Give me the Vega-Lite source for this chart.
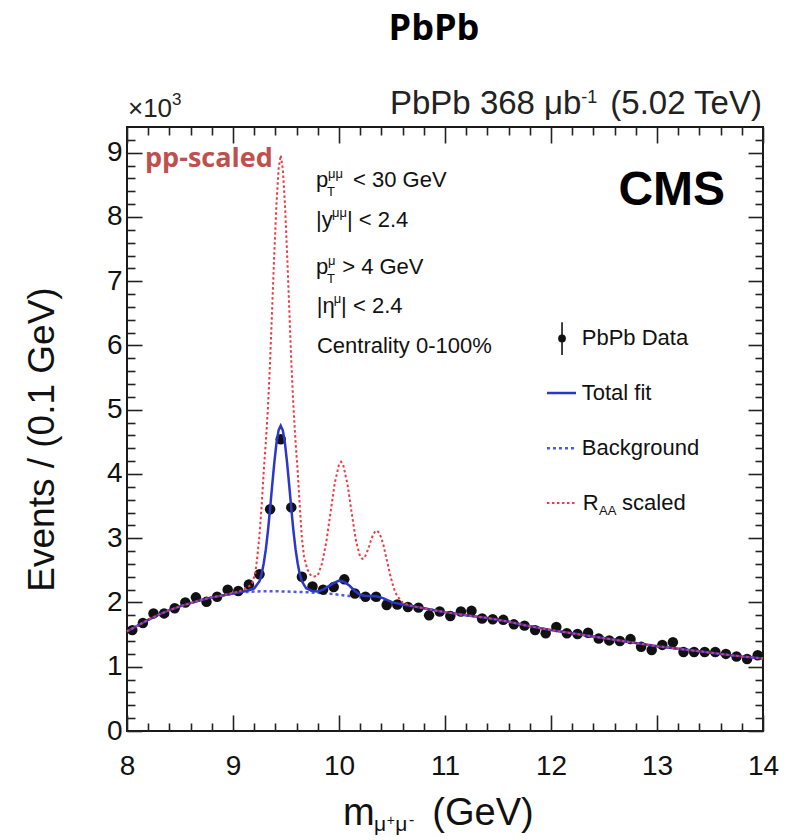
{
  "$schema": "https://vega.github.io/schema/vega-lite/v6.json",
  "width": 636,
  "height": 604,
  "autosize": {"type": "none"},
  "padding": {"left": 127, "top": 127, "right": 35, "bottom": 109},
  "background": "white",
  "title": {"text": "PbPb", "font": "Open Sans", "fontSize": 36, "fontWeight": "bold", "color": "#000", "anchor": "middle", "frame": "group", "offset": 12, "baseline": "alphabetic", "dx": -11},
  "config": {
    "view": {"stroke": "#1a1a1a", "strokeWidth": 2},
    "axis": {"domain": false, "grid": false, "labelFont": "Liberation Sans", "labelFontSize": 28, "labelColor": "#111", "tickColor": "#222", "tickWidth": 1.6, "labelFlush": false, "labelOverlap": false, "titleFont": "Liberation Sans", "titleColor": "#111"},
    "text": {"font": "Liberation Sans", "fontSize": 22, "align": "left", "baseline": "alphabetic", "color": "#111"}
  },
  "data": {"values": [{}]},
  "datasets": {
    "pts": [
      {"mass": 8.05, "events": 1.57}, {"mass": 8.15, "events": 1.68}, {"mass": 8.25, "events": 1.83}, {"mass": 8.35, "events": 1.83},
      {"mass": 8.45, "events": 1.91}, {"mass": 8.55, "events": 2.0}, {"mass": 8.65, "events": 2.08}, {"mass": 8.75, "events": 2.01},
      {"mass": 8.85, "events": 2.09}, {"mass": 8.95, "events": 2.2}, {"mass": 9.05, "events": 2.18}, {"mass": 9.15, "events": 2.28},
      {"mass": 9.25, "events": 2.44}, {"mass": 9.35, "events": 3.45}, {"mass": 9.45, "events": 4.54}, {"mass": 9.55, "events": 3.48},
      {"mass": 9.65, "events": 2.4}, {"mass": 9.75, "events": 2.25}, {"mass": 9.85, "events": 2.2}, {"mass": 9.95, "events": 2.24},
      {"mass": 10.05, "events": 2.36}, {"mass": 10.15, "events": 2.14}, {"mass": 10.25, "events": 2.09}, {"mass": 10.35, "events": 2.09},
      {"mass": 10.45, "events": 1.96}, {"mass": 10.55, "events": 1.97}, {"mass": 10.65, "events": 1.93}, {"mass": 10.75, "events": 1.92},
      {"mass": 10.85, "events": 1.8}, {"mass": 10.95, "events": 1.86}, {"mass": 11.05, "events": 1.79}, {"mass": 11.15, "events": 1.86},
      {"mass": 11.25, "events": 1.87}, {"mass": 11.35, "events": 1.75}, {"mass": 11.45, "events": 1.74}, {"mass": 11.55, "events": 1.73},
      {"mass": 11.65, "events": 1.66}, {"mass": 11.75, "events": 1.64}, {"mass": 11.85, "events": 1.57}, {"mass": 11.95, "events": 1.52},
      {"mass": 12.05, "events": 1.62}, {"mass": 12.15, "events": 1.52}, {"mass": 12.25, "events": 1.51}, {"mass": 12.35, "events": 1.53},
      {"mass": 12.45, "events": 1.44}, {"mass": 12.55, "events": 1.41}, {"mass": 12.65, "events": 1.4}, {"mass": 12.75, "events": 1.43},
      {"mass": 12.85, "events": 1.31}, {"mass": 12.95, "events": 1.26}, {"mass": 13.05, "events": 1.34}, {"mass": 13.15, "events": 1.38},
      {"mass": 13.25, "events": 1.23}, {"mass": 13.35, "events": 1.23}, {"mass": 13.45, "events": 1.23}, {"mass": 13.55, "events": 1.23},
      {"mass": 13.65, "events": 1.2}, {"mass": 13.75, "events": 1.16}, {"mass": 13.85, "events": 1.12}, {"mass": 13.95, "events": 1.18}
    ],
    "bg": [
      {"mass": 8.0, "events": 1.55}, {"mass": 8.1, "events": 1.64}, {"mass": 8.2, "events": 1.73}, {"mass": 8.3, "events": 1.81},
      {"mass": 8.4, "events": 1.88}, {"mass": 8.5, "events": 1.94}, {"mass": 8.6, "events": 1.99}, {"mass": 8.7, "events": 2.04},
      {"mass": 8.8, "events": 2.08}, {"mass": 8.9, "events": 2.11}, {"mass": 9.0, "events": 2.14}, {"mass": 9.1, "events": 2.16},
      {"mass": 9.2, "events": 2.17}, {"mass": 9.3, "events": 2.175}, {"mass": 9.4, "events": 2.175}, {"mass": 9.5, "events": 2.17},
      {"mass": 9.6, "events": 2.165}, {"mass": 9.7, "events": 2.16}, {"mass": 9.8, "events": 2.15}, {"mass": 9.9, "events": 2.14},
      {"mass": 10.0, "events": 2.12}, {"mass": 10.1, "events": 2.1}, {"mass": 10.2, "events": 2.08}, {"mass": 10.3, "events": 2.06},
      {"mass": 10.4, "events": 2.03}, {"mass": 10.5, "events": 2.0}, {"mass": 10.6, "events": 1.97}, {"mass": 10.7, "events": 1.94},
      {"mass": 10.8, "events": 1.91}, {"mass": 10.9, "events": 1.88}, {"mass": 11.0, "events": 1.85}, {"mass": 11.2, "events": 1.8},
      {"mass": 11.4, "events": 1.76}, {"mass": 11.6, "events": 1.7}, {"mass": 11.8, "events": 1.63}, {"mass": 12.0, "events": 1.57},
      {"mass": 12.2, "events": 1.52}, {"mass": 12.4, "events": 1.47}, {"mass": 12.6, "events": 1.42}, {"mass": 12.8, "events": 1.37},
      {"mass": 13.0, "events": 1.32}, {"mass": 13.2, "events": 1.28}, {"mass": 13.4, "events": 1.24}, {"mass": 13.6, "events": 1.2},
      {"mass": 13.8, "events": 1.16}, {"mass": 14.0, "events": 1.13}
    ],
    "fit": [
      {"mass": 8.0, "events": 1.55}, {"mass": 8.1, "events": 1.64}, {"mass": 8.2, "events": 1.73}, {"mass": 8.3, "events": 1.81},
      {"mass": 8.4, "events": 1.88}, {"mass": 8.5, "events": 1.94}, {"mass": 8.6, "events": 1.99}, {"mass": 8.7, "events": 2.04},
      {"mass": 8.8, "events": 2.08}, {"mass": 8.9, "events": 2.11}, {"mass": 9.0, "events": 2.14}, {"mass": 9.1, "events": 2.17},
      {"mass": 9.15, "events": 2.19}, {"mass": 9.2, "events": 2.22}, {"mass": 9.25, "events": 2.33}, {"mass": 9.27, "events": 2.44},
      {"mass": 9.29, "events": 2.61}, {"mass": 9.31, "events": 2.83}, {"mass": 9.33, "events": 3.12}, {"mass": 9.35, "events": 3.46},
      {"mass": 9.37, "events": 3.83}, {"mass": 9.39, "events": 4.18}, {"mass": 9.41, "events": 4.48}, {"mass": 9.43, "events": 4.68},
      {"mass": 9.45, "events": 4.75}, {"mass": 9.47, "events": 4.68}, {"mass": 9.49, "events": 4.48}, {"mass": 9.51, "events": 4.18},
      {"mass": 9.53, "events": 3.83}, {"mass": 9.55, "events": 3.46}, {"mass": 9.57, "events": 3.12}, {"mass": 9.59, "events": 2.83},
      {"mass": 9.61, "events": 2.61}, {"mass": 9.63, "events": 2.44}, {"mass": 9.65, "events": 2.33}, {"mass": 9.69, "events": 2.22},
      {"mass": 9.75, "events": 2.18}, {"mass": 9.8, "events": 2.17}, {"mass": 9.85, "events": 2.2}, {"mass": 9.9, "events": 2.25},
      {"mass": 9.95, "events": 2.3}, {"mass": 10.0, "events": 2.34}, {"mass": 10.02, "events": 2.335}, {"mass": 10.05, "events": 2.32},
      {"mass": 10.1, "events": 2.26}, {"mass": 10.15, "events": 2.18}, {"mass": 10.2, "events": 2.12}, {"mass": 10.25, "events": 2.1},
      {"mass": 10.3, "events": 2.1}, {"mass": 10.36, "events": 2.095}, {"mass": 10.42, "events": 2.065}, {"mass": 10.5, "events": 2.005},
      {"mass": 10.6, "events": 1.97}, {"mass": 10.7, "events": 1.94}, {"mass": 10.8, "events": 1.91}, {"mass": 10.9, "events": 1.88},
      {"mass": 11.0, "events": 1.85}, {"mass": 11.2, "events": 1.8}, {"mass": 11.4, "events": 1.76}, {"mass": 11.6, "events": 1.7},
      {"mass": 11.8, "events": 1.63}, {"mass": 12.0, "events": 1.57}, {"mass": 12.2, "events": 1.52}, {"mass": 12.4, "events": 1.47},
      {"mass": 12.6, "events": 1.42}, {"mass": 12.8, "events": 1.37}, {"mass": 13.0, "events": 1.32}, {"mass": 13.2, "events": 1.28},
      {"mass": 13.4, "events": 1.24}, {"mass": 13.6, "events": 1.2}, {"mass": 13.8, "events": 1.16}, {"mass": 14.0, "events": 1.13}
    ],
    "raa": [
      {"mass": 8.0, "events": 1.55}, {"mass": 8.1, "events": 1.64}, {"mass": 8.2, "events": 1.73}, {"mass": 8.3, "events": 1.81},
      {"mass": 8.4, "events": 1.88}, {"mass": 8.5, "events": 1.94}, {"mass": 8.6, "events": 1.99}, {"mass": 8.7, "events": 2.04},
      {"mass": 8.8, "events": 2.08}, {"mass": 8.9, "events": 2.11}, {"mass": 9.0, "events": 2.15}, {"mass": 9.05, "events": 2.17},
      {"mass": 9.1, "events": 2.2}, {"mass": 9.15, "events": 2.25}, {"mass": 9.18, "events": 2.3}, {"mass": 9.21, "events": 2.45},
      {"mass": 9.23, "events": 2.72}, {"mass": 9.25, "events": 3.05}, {"mass": 9.27, "events": 3.5}, {"mass": 9.29, "events": 4.05},
      {"mass": 9.31, "events": 4.5}, {"mass": 9.33, "events": 5.05}, {"mass": 9.35, "events": 5.75}, {"mass": 9.37, "events": 6.6},
      {"mass": 9.39, "events": 7.45}, {"mass": 9.41, "events": 8.2}, {"mass": 9.43, "events": 8.75}, {"mass": 9.45, "events": 8.96},
      {"mass": 9.47, "events": 8.75}, {"mass": 9.49, "events": 8.2}, {"mass": 9.51, "events": 7.45}, {"mass": 9.53, "events": 6.6},
      {"mass": 9.55, "events": 5.75}, {"mass": 9.57, "events": 5.05}, {"mass": 9.59, "events": 4.5}, {"mass": 9.61, "events": 4.05},
      {"mass": 9.63, "events": 3.5}, {"mass": 9.65, "events": 3.0}, {"mass": 9.67, "events": 2.72}, {"mass": 9.7, "events": 2.52},
      {"mass": 9.73, "events": 2.43}, {"mass": 9.76, "events": 2.4}, {"mass": 9.8, "events": 2.42}, {"mass": 9.84, "events": 2.61},
      {"mass": 9.88, "events": 2.94}, {"mass": 9.92, "events": 3.4}, {"mass": 9.96, "events": 3.86}, {"mass": 10.0, "events": 4.15},
      {"mass": 10.02, "events": 4.19}, {"mass": 10.04, "events": 4.14}, {"mass": 10.08, "events": 3.84}, {"mass": 10.12, "events": 3.39},
      {"mass": 10.16, "events": 2.96}, {"mass": 10.2, "events": 2.71}, {"mass": 10.22, "events": 2.68}, {"mass": 10.24, "events": 2.69},
      {"mass": 10.26, "events": 2.77}, {"mass": 10.28, "events": 2.85}, {"mass": 10.3, "events": 2.96}, {"mass": 10.32, "events": 3.05},
      {"mass": 10.34, "events": 3.1}, {"mass": 10.36, "events": 3.12}, {"mass": 10.38, "events": 3.08}, {"mass": 10.4, "events": 3.0},
      {"mass": 10.42, "events": 2.89}, {"mass": 10.44, "events": 2.74}, {"mass": 10.46, "events": 2.6}, {"mass": 10.48, "events": 2.45},
      {"mass": 10.5, "events": 2.32}, {"mass": 10.52, "events": 2.21}, {"mass": 10.54, "events": 2.13}, {"mass": 10.56, "events": 2.08},
      {"mass": 10.6, "events": 2.0}, {"mass": 10.65, "events": 1.965}, {"mass": 10.7, "events": 1.94}, {"mass": 10.8, "events": 1.91},
      {"mass": 10.9, "events": 1.88}, {"mass": 11.0, "events": 1.85}, {"mass": 11.2, "events": 1.8}, {"mass": 11.4, "events": 1.76},
      {"mass": 11.6, "events": 1.7}, {"mass": 11.8, "events": 1.63}, {"mass": 12.0, "events": 1.57}, {"mass": 12.2, "events": 1.52},
      {"mass": 12.4, "events": 1.47}, {"mass": 12.6, "events": 1.42}, {"mass": 12.8, "events": 1.37}, {"mass": 13.0, "events": 1.32},
      {"mass": 13.2, "events": 1.28}, {"mass": 13.4, "events": 1.24}, {"mass": 13.6, "events": 1.2}, {"mass": 13.8, "events": 1.16},
      {"mass": 14.0, "events": 1.13}
    ]
  },
  "resolve": {"axis": {"x": "independent", "y": "independent"}},
  "layer": [
    {
      "data": {"name": "bg"},
      "mark": {"type": "line", "color": "#4b5ae6", "strokeWidth": 2.5, "strokeDash": [3, 3]},
      "encoding": {
        "x": {"field": "mass", "type": "quantitative", "scale": {"domain": [8, 14], "nice": false, "zero": false},
              "axis": {"orient": "bottom", "values": [8, 9, 10, 11, 12, 13, 14], "tickSize": -16, "labelPadding": 37, "format": "d", "title": null}},
        "y": {"field": "events", "type": "quantitative", "scale": {"domain": [0, 9.4], "nice": false, "zero": false},
              "axis": {"orient": "left", "values": [0, 1, 2, 3, 4, 5, 6, 7, 8, 9], "tickSize": -15, "labelPadding": 20, "format": "d",
                       "title": "Events / (0.1 GeV)", "titleFontSize": 37, "titleFontWeight": "normal", "titleX": -74, "titleY": 312,
                       "titleAngle": -90, "titleAlign": "center", "titleBaseline": "alphabetic"}}
      }
    },
    {
      "data": {"name": "pts"},
      "mark": {"type": "circle", "size": 110, "color": "#111", "opacity": 1},
      "encoding": {
        "x": {"field": "mass", "type": "quantitative",
              "axis": {"orient": "top", "values": [8, 9, 10, 11, 12, 13, 14], "tickSize": -16, "labels": false, "title": null}},
        "y": {"field": "events", "type": "quantitative",
              "axis": {"orient": "right", "values": [0, 1, 2, 3, 4, 5, 6, 7, 8, 9], "tickSize": -15, "labels": false, "title": null}}
      }
    },
    {
      "data": {"name": "fit"},
      "mark": {"type": "line", "color": "#2b37c8", "strokeWidth": 2.5},
      "encoding": {
        "x": {"field": "mass", "type": "quantitative",
              "axis": {"orient": "bottom", "values": [8.2, 8.4, 8.6, 8.8, 9.2, 9.4, 9.6, 9.8, 10.2, 10.4, 10.6, 10.8, 11.2, 11.4, 11.6, 11.8, 12.2, 12.4, 12.6, 12.8, 13.2, 13.4, 13.6, 13.8], "tickSize": -8, "labels": false, "title": null}},
        "y": {"field": "events", "type": "quantitative",
              "axis": {"orient": "left", "values": [0.2, 0.4, 0.6, 0.8, 1.2, 1.4, 1.6, 1.8, 2.2, 2.4, 2.6, 2.8, 3.2, 3.4, 3.6, 3.8, 4.2, 4.4, 4.6, 4.8, 5.2, 5.4, 5.6, 5.8, 6.2, 6.4, 6.6, 6.8, 7.2, 7.4, 7.6, 7.8, 8.2, 8.4, 8.6, 8.8, 9.2], "tickSize": -8, "labels": false, "title": null}}
      }
    },
    {
      "data": {"name": "raa"},
      "mark": {"type": "line", "color": "#ee3b46", "strokeWidth": 2, "strokeDash": [2.5, 2.5]},
      "encoding": {
        "x": {"field": "mass", "type": "quantitative",
              "axis": {"orient": "top", "values": [8.2, 8.4, 8.6, 8.8, 9.2, 9.4, 9.6, 9.8, 10.2, 10.4, 10.6, 10.8, 11.2, 11.4, 11.6, 11.8, 12.2, 12.4, 12.6, 12.8, 13.2, 13.4, 13.6, 13.8], "tickSize": -8, "labels": false, "title": null}},
        "y": {"field": "events", "type": "quantitative",
              "axis": {"orient": "right", "values": [0.2, 0.4, 0.6, 0.8, 1.2, 1.4, 1.6, 1.8, 2.2, 2.4, 2.6, 2.8, 3.2, 3.4, 3.6, 3.8, 4.2, 4.4, 4.6, 4.8, 5.2, 5.4, 5.6, 5.8, 6.2, 6.4, 6.6, 6.8, 7.2, 7.4, 7.6, 7.8, 8.2, 8.4, 8.6, 8.8, 9.2], "tickSize": -8, "labels": false, "title": null}}
      }
    },
    {"mark": {"type": "rule", "color": "#2b37c8", "strokeWidth": 2.5},
     "encoding": {"x": {"datum": 11.962, "axis": null}, "x2": {"datum": 12.236}, "y": {"datum": 5.26, "axis": null}}},
    {"mark": {"type": "rule", "color": "#4b5ae6", "strokeWidth": 2.5, "strokeDash": [3, 3]},
     "encoding": {"x": {"datum": 11.962, "axis": null}, "x2": {"datum": 12.236}, "y": {"datum": 4.4, "axis": null}}},
    {"mark": {"type": "rule", "color": "#ee3b46", "strokeWidth": 2, "strokeDash": [2.5, 2.5]},
     "encoding": {"x": {"datum": 11.962, "axis": null}, "x2": {"datum": 12.236}, "y": {"datum": 3.55, "axis": null}}},
    {"mark": {"type": "rule", "color": "#111", "strokeWidth": 1.6},
     "encoding": {"x": {"datum": 12.104, "axis": null}, "y": {"datum": 5.85, "axis": null}, "y2": {"datum": 6.36}}},
    {"mark": {"type": "circle", "size": 60, "color": "#111", "opacity": 1},
     "encoding": {"x": {"datum": 12.104, "axis": null}, "y": {"datum": 6.11, "axis": null}}},
    {"mark": {"type": "text", "text": "PbPb Data", "baseline": "middle"},
     "encoding": {"x": {"datum": 12.29, "axis": null}, "y": {"datum": 6.11, "axis": null}}},
    {"mark": {"type": "text", "text": "Total fit", "baseline": "middle"},
     "encoding": {"x": {"datum": 12.29, "axis": null}, "y": {"datum": 5.26, "axis": null}}},
    {"mark": {"type": "text", "text": "Background", "baseline": "middle"},
     "encoding": {"x": {"datum": 12.29, "axis": null}, "y": {"datum": 4.4, "axis": null}}},
    {"mark": {"type": "text", "text": "R", "baseline": "middle"},
     "encoding": {"x": {"datum": 12.3, "axis": null}, "y": {"datum": 3.55, "axis": null}}},
    {"mark": {"type": "text", "text": "AA", "baseline": "middle", "fontSize": 13, "dy": 8},
     "encoding": {"x": {"datum": 12.453, "axis": null}, "y": {"datum": 3.55, "axis": null}}},
    {"mark": {"type": "text", "text": "scaled", "baseline": "middle"},
     "encoding": {"x": {"datum": 12.67, "axis": null}, "y": {"datum": 3.55, "axis": null}}},

    {"mark": {"type": "text", "text": "p"},
     "encoding": {"x": {"datum": 9.783, "axis": null}, "y": {"datum": 8.46, "axis": null}}},
    {"mark": {"type": "text", "text": "T", "fontSize": 13, "dx": 11, "dy": 9},
     "encoding": {"x": {"datum": 9.783, "axis": null}, "y": {"datum": 8.46, "axis": null}}},
    {"mark": {"type": "text", "text": "μμ", "fontSize": 13, "dx": 12, "dy": -9},
     "encoding": {"x": {"datum": 9.783, "axis": null}, "y": {"datum": 8.46, "axis": null}}},
    {"mark": {"type": "text", "text": "< 30 GeV"},
     "encoding": {"x": {"datum": 10.132, "axis": null}, "y": {"datum": 8.46, "axis": null}}},

    {"mark": {"type": "text", "text": "|y"},
     "encoding": {"x": {"datum": 9.783, "axis": null}, "y": {"datum": 7.84, "axis": null}}},
    {"mark": {"type": "text", "text": "μμ", "fontSize": 13, "dx": 16, "dy": -10},
     "encoding": {"x": {"datum": 9.783, "axis": null}, "y": {"datum": 7.84, "axis": null}}},
    {"mark": {"type": "text", "text": "| < 2.4"},
     "encoding": {"x": {"datum": 10.075, "axis": null}, "y": {"datum": 7.84, "axis": null}}},

    {"mark": {"type": "text", "text": "p"},
     "encoding": {"x": {"datum": 9.783, "axis": null}, "y": {"datum": 7.12, "axis": null}}},
    {"mark": {"type": "text", "text": "T", "fontSize": 13, "dx": 11, "dy": 9},
     "encoding": {"x": {"datum": 9.783, "axis": null}, "y": {"datum": 7.12, "axis": null}}},
    {"mark": {"type": "text", "text": "μ", "fontSize": 13, "dx": 12, "dy": -9},
     "encoding": {"x": {"datum": 9.783, "axis": null}, "y": {"datum": 7.12, "axis": null}}},
    {"mark": {"type": "text", "text": "> 4 GeV"},
     "encoding": {"x": {"datum": 10.03, "axis": null}, "y": {"datum": 7.12, "axis": null}}},

    {"mark": {"type": "text", "text": "|η"},
     "encoding": {"x": {"datum": 9.79, "axis": null}, "y": {"datum": 6.5, "axis": null}}},
    {"mark": {"type": "text", "text": "μ", "fontSize": 13, "dx": 17, "dy": -10},
     "encoding": {"x": {"datum": 9.79, "axis": null}, "y": {"datum": 6.5, "axis": null}}},
    {"mark": {"type": "text", "text": "| < 2.4"},
     "encoding": {"x": {"datum": 10.02, "axis": null}, "y": {"datum": 6.5, "axis": null}}},

    {"mark": {"type": "text", "text": "Centrality 0-100%"},
     "encoding": {"x": {"datum": 9.792, "axis": null}, "y": {"datum": 5.88, "axis": null}}},

    {"mark": {"type": "text", "text": "CMS", "fontSize": 48, "fontWeight": "bold", "align": "right", "color": "#000"},
     "encoding": {"x": {"datum": 13.642, "axis": null}, "y": {"datum": 8.18, "axis": null}}},

    {"mark": {"type": "text", "text": "pp-scaled", "font": "Open Sans", "fontSize": 27, "fontWeight": "bold", "color": "#c0504d"},
     "encoding": {"x": {"datum": 8.17, "axis": null}, "y": {"datum": 8.77, "axis": null}}},

    {"mark": {"type": "text", "text": "PbPb 368 μb", "fontSize": 33, "color": "#222"},
     "encoding": {"x": {"datum": 10.481, "axis": null}, "y": {"datum": 9.596, "axis": null}}},
    {"mark": {"type": "text", "text": "-1", "fontSize": 18, "color": "#222"},
     "encoding": {"x": {"datum": 12.285, "axis": null}, "y": {"datum": 9.78, "axis": null}}},
    {"mark": {"type": "text", "text": "(5.02 TeV)", "fontSize": 33, "align": "right", "color": "#222"},
     "encoding": {"x": {"datum": 13.99, "axis": null}, "y": {"datum": 9.596, "axis": null}}},

    {"mark": {"type": "text", "text": "×10", "fontSize": 26, "color": "#222"},
     "encoding": {"x": {"datum": 8.009, "axis": null}, "y": {"datum": 9.55, "axis": null}}},
    {"mark": {"type": "text", "text": "3", "fontSize": 17, "color": "#222"},
     "encoding": {"x": {"datum": 8.425, "axis": null}, "y": {"datum": 9.75, "axis": null}}},

    {"mark": {"type": "text", "text": "m", "fontSize": 38},
     "encoding": {"x": {"datum": 10.038, "axis": null}, "y": {"datum": -1.462, "axis": null}}},
    {"mark": {"type": "text", "text": "μ", "fontSize": 21},
     "encoding": {"x": {"datum": 10.33, "axis": null}, "y": {"datum": -1.56, "axis": null}}},
    {"mark": {"type": "text", "text": "+", "fontSize": 14},
     "encoding": {"x": {"datum": 10.45, "axis": null}, "y": {"datum": -1.47, "axis": null}}},
    {"mark": {"type": "text", "text": "μ", "fontSize": 21},
     "encoding": {"x": {"datum": 10.53, "axis": null}, "y": {"datum": -1.56, "axis": null}}},
    {"mark": {"type": "text", "text": "-", "fontSize": 16},
     "encoding": {"x": {"datum": 10.66, "axis": null}, "y": {"datum": -1.47, "axis": null}}},
    {"mark": {"type": "text", "text": "(GeV)", "fontSize": 38},
     "encoding": {"x": {"datum": 10.88, "axis": null}, "y": {"datum": -1.462, "axis": null}}}
  ]
}
